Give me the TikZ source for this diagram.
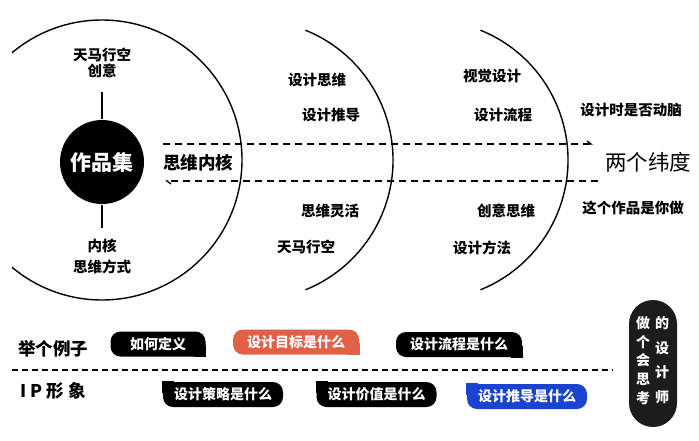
\documentclass[tikz,border=0pt]{standalone}
\usepackage{fontspec}
\setmainfont{Noto Sans CJK SC}
\usepackage{tikz}
\usetikzlibrary{arrows.meta}
\definecolor{tagred}{RGB}{226,96,72}
\definecolor{tagblue}{RGB}{26,68,208}
\definecolor{pillgray}{RGB}{28,28,28}

\begin{document}
\begin{tikzpicture}[x=1pt,y=1pt,line width=1.4pt,
  lbl/.style={font=\fontsize{14.5}{16}\selectfont\bfseries,inner sep=0pt,align=center},
  tag/.style={fill=black,text=white,rounded corners=10pt,minimum height=25pt,inner sep=0pt,font=\fontsize{14}{16}\selectfont\bfseries},
  dim line/.style={dash pattern=on 7pt off 5pt,line width=1.3pt},
  sep line/.style={dash pattern=on 6pt off 4pt,line width=2pt}]

\useasboundingbox (0,0) rectangle (699,-440);

% three rings
\draw (102,-160) ++(130:140) arc[start angle=130,end angle=-130,radius=140];
\draw (253,-160) ++(68:140) arc[start angle=68,end angle=-68,radius=140];
\draw (428,-160) ++(68:140) arc[start angle=68,end angle=-68,radius=140];

\node[circle,fill=black,minimum size=84pt,text=white,font=\fontsize{21}{24}\selectfont\bfseries] (core) at (102,-162) {作品集};
\node[lbl] (idea) at (102,-63) {天马行空\\创意};
\node[lbl] (way) at (102,-256) {内核\\[5pt]思维方式};
\draw[shorten >=13pt] (core.north) -- (idea.south);
\draw[shorten >=10pt] (core.south) -- (way.north);

\node[inner sep=0pt,font=\fontsize{17.5}{20}\selectfont\bfseries] (kernel) at (198,-163) {思维内核};

\node[lbl] (think) at (317,-80) {设计思维};
\node[lbl] (derive) at (331,-115) {设计推导};
\node[lbl] (flex) at (330,-211) {思维灵活};
\node[lbl] (wild) at (306,-247) {天马行空};

\node[lbl] (visual) at (492,-76) {视觉设计};
\node[lbl] (flow) at (503,-115) {设计流程};
\node[lbl] (creative) at (506,-211) {创意思维};
\node[lbl] (method) at (482,-248) {设计方法};

\node[lbl] (brain) at (631,-110) {设计时是否动脑};
\node[inner sep=0pt,font=\fontsize{21.5}{24}\selectfont] (dims) at (648,-162) {两个纬度};
\node[lbl] (own) at (633,-208) {这个作品是你做};

% dashed arrows
\coordinate (upA) at (163,-144);
\coordinate (upB) at (593,-144);
\coordinate (loA) at (598,-181);
\coordinate (loB) at (165,-181);
\draw[dim line,-{Straight Barb[left,length=4pt,width=6pt]}] (upA) -- (upB);
\draw[dim line,-{Straight Barb[left,length=4pt,width=6pt]}] (loA) -- (loB);

% examples
\node[inner sep=0pt,font=\fontsize{17.5}{20}\selectfont\bfseries] (eg) at (53,-349) {举个例子};
\node[inner sep=0pt,font=\fontsize{17.5}{20}\selectfont\bfseries] (ip) at (53,-391) {I P 形 象};

\node[tag,minimum width=95pt] (define) at (158,-344) {如何定义};
\node[tag,fill=tagred,minimum width=126pt] (goal) at (296,-342) {设计目标是什么};
\node[tag,minimum width=126pt] (process) at (459,-344.5) {设计流程是什么};
\foreach \n/\c in {define/black,goal/tagred,process/black}
  \fill[\c] (\n.south east) rectangle ([xshift=-12pt,yshift=12pt]\n.south east);

\node[tag,minimum width=120pt] (strategy) at (223,-394.5) {设计策略是什么};
\node[tag,minimum width=120pt] (value) at (376.5,-394.5) {设计价值是什么};
\node[tag,fill=tagblue,minimum width=120pt] (reason) at (527,-396.5) {设计推导是什么};
\foreach \n/\c in {strategy/black,value/black,reason/tagblue}
  \fill[\c] (\n.north west) rectangle ([xshift=12pt,yshift=-12pt]\n.north west);

\coordinate (sepA) at (12,-370);
\coordinate (sepB) at (613,-370);
\draw[sep line] (sepA) -- (sepB);

% designer pill
\node[fill=pillgray,rounded corners=24pt,minimum width=48pt,minimum height=127pt] (pill) at (653,-363.5) {};
\node[inner sep=0pt,text=white,align=center,font=\fontsize{14}{18.75}\selectfont\bfseries] (colA) at (643,-360.5) {做\\个\\会\\思\\考};
\node[inner sep=0pt,text=white,align=center,font=\fontsize{14}{24.7}\selectfont\bfseries] (colB) at (662,-360) {的\\设\\计\\师};
\end{tikzpicture}
\end{document}
